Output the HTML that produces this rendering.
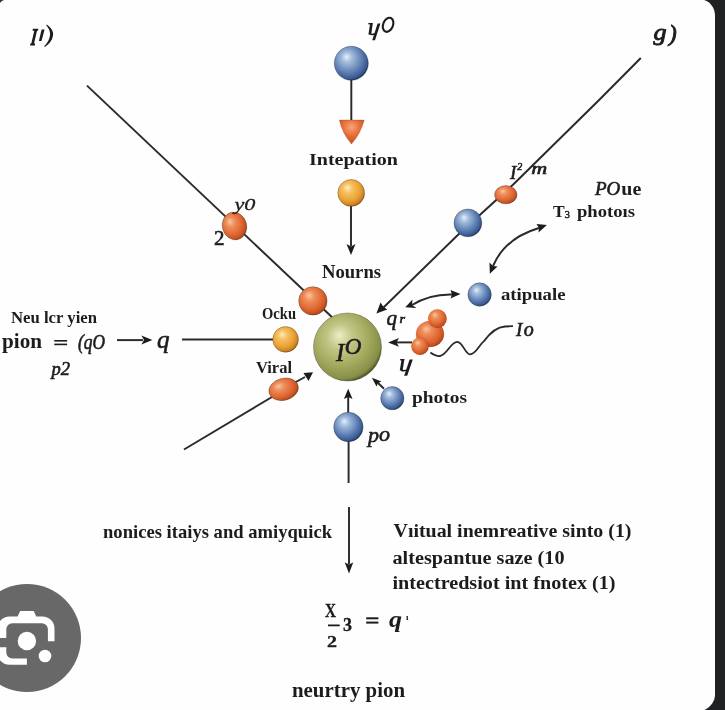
<!DOCTYPE html>
<html><head><meta charset="utf-8">
<style>
html,body{margin:0;padding:0;width:725px;height:710px;overflow:hidden;background:#202122;}
svg{display:block;}
text{font-family:"Liberation Serif",serif;fill:#1c1c1c;}
.b{font-weight:bold;}
.i{font-style:italic;stroke:#1c1c1c;stroke-width:0.6px;}
</style></head><body>
<svg width="725" height="710" viewBox="0 0 725 710">
<defs>
  <radialGradient id="gBlue" cx="0.42" cy="0.4" r="0.62" fx="0.36" fy="0.3">
    <stop offset="0" stop-color="#e6f0f6"/>
    <stop offset="0.25" stop-color="#a2bcdc"/>
    <stop offset="0.65" stop-color="#5f80b5"/>
    <stop offset="0.9" stop-color="#3a5a92"/>
    <stop offset="1" stop-color="#1f3662"/>
  </radialGradient>
  <radialGradient id="gRed" cx="0.42" cy="0.4" r="0.62" fx="0.36" fy="0.3">
    <stop offset="0" stop-color="#f9c6a4"/>
    <stop offset="0.3" stop-color="#ee8c58"/>
    <stop offset="0.7" stop-color="#de6632"/>
    <stop offset="0.92" stop-color="#c44e20"/>
    <stop offset="1" stop-color="#983814"/>
  </radialGradient>
  <radialGradient id="gOrange" cx="0.42" cy="0.4" r="0.62" fx="0.36" fy="0.3">
    <stop offset="0" stop-color="#fdebc0"/>
    <stop offset="0.3" stop-color="#f6c060"/>
    <stop offset="0.7" stop-color="#e9a134"/>
    <stop offset="0.92" stop-color="#cc8020"/>
    <stop offset="1" stop-color="#9a5c10"/>
  </radialGradient>
  <radialGradient id="gGreen" cx="0.42" cy="0.4" r="0.62" fx="0.38" fy="0.33">
    <stop offset="0" stop-color="#eceec4"/>
    <stop offset="0.3" stop-color="#c2c686"/>
    <stop offset="0.65" stop-color="#a3aa5e"/>
    <stop offset="0.92" stop-color="#878f48"/>
    <stop offset="1" stop-color="#4e5628"/>
  </radialGradient>
  <radialGradient id="gTri" cx="0.48" cy="0.3" r="0.75">
    <stop offset="0" stop-color="#f7a57a"/>
    <stop offset="0.45" stop-color="#e8703a"/>
    <stop offset="0.85" stop-color="#d0501f"/>
    <stop offset="1" stop-color="#a83a14"/>
  </radialGradient>
  <filter id="soft" x="-5%" y="-5%" width="110%" height="110%"><feGaussianBlur stdDeviation="0.6"/></filter>
</defs>
<!-- white card -->
<path d="M-5,-1 H698 C708,-1 715,6 715,16 V694.8 C715,702 709.5,708.5 702,711 H-5 Z" fill="#fefefe"/>
<path d="M0,0 L4,0 Q1,0.8 0,3 Z" fill="#303030"/>

<g filter="url(#soft)">
<g stroke="#2a2a2a" stroke-width="1.95" fill="none">
  <!-- upper-left long line -->
  <line x1="87" y1="85.6" x2="335" y2="320"/>
  <!-- upper-right long line -->
  <polyline points="640.8,58 598.6,100.5 512.7,185 457.3,235.5 383.5,307.5" stroke-linejoin="round"/>
  <!-- top vertical -->
  <line x1="351.3" y1="78" x2="351.3" y2="122"/>
  <line x1="351" y1="206" x2="351" y2="246"/>
  <!-- left horizontal -->
  <line x1="182" y1="339.5" x2="274" y2="339.5"/>
  <!-- lower-left line -->
  <line x1="184" y1="449.5" x2="272" y2="397"/>
  <line x1="294" y1="383" x2="305" y2="377"/>
  <!-- left formula arrow -->
  <line x1="117" y1="340.1" x2="143" y2="340.1"/>
  <!-- cluster arrow -->
  <line x1="412" y1="342.4" x2="396" y2="342.4"/>
  <!-- photos arrow -->
  <line x1="384" y1="388.8" x2="377" y2="382"/>
  <!-- bottom -->
  <line x1="348.6" y1="483" x2="348.6" y2="440"/>
  <line x1="348.2" y1="413" x2="348.2" y2="397"/>
  <line x1="349" y1="507" x2="349" y2="564"/>
  <!-- double arrows -->
  <path d="M493,266 Q505,238 539,228"/>
  <path d="M412,305 Q430,294 452,294.5"/>
  <!-- wave -->
  <path d="M430.4,352.5 C434,355 437,356.5 440,356 C447,355 451,341.5 457.3,341.8 C463,342 465,354.3 470,354.3 C476,354.3 479,345 484.2,340.9 C490,333 497,327 505,326.5 L513,326.2" stroke-width="1.8"/>
</g>
<g fill="#1c1c1c">
  <path d="M376.4,313.4 L380.5,302.5 L383.5,307 L387.3,309.5 Z"/>
  <path d="M351,255 L346.5,244 L351,246.5 L355.5,244 Z"/>
  <path d="M313,372.2 L303.5,373 L306,377 L308.5,381 Z"/>
  <path d="M152.4,340.1 L141.4,335.6 L144,340.1 L141.4,344.6 Z"/>
  <path d="M388.1,342.4 L399,338 L396.5,342.4 L399,346.8 Z"/>
  <path d="M371.9,377.7 L381.5,381.5 L378,383 L376.5,386.5 Z"/>
  <path d="M348.2,388.8 L352.5,399 L348.2,397 L343.9,399 Z"/>
  <path d="M349,573.5 L344.8,562.5 L349,564.5 L353.2,562.5 Z"/>
  <path d="M489.8,273.8 L489.5,262.5 L493,266 L497.5,266.5 Z"/>
  <path d="M546.9,224.9 L536.5,224 L539,228 L538.5,232.5 Z"/>
  <path d="M405.3,307.2 L412.5,299.5 L412,305 L416.5,308 Z"/>
  <path d="M460.5,294.1 L450.5,290 L452,294.5 L450.5,298.5 Z"/>
</g>

<!-- spheres -->
<circle cx="351.3" cy="63.3" r="17" fill="url(#gBlue)" stroke="#3a3226" stroke-opacity="0.45" stroke-width="0.8"/>
<path d="M339.4,120 L364.2,120 Q361,133 351.5,144 Q342,133 339.4,120 Z" fill="url(#gTri)" stroke="#8a3010" stroke-opacity="0.35" stroke-width="0.8"/>
<circle cx="351.2" cy="192.9" r="13.4" fill="url(#gOrange)" stroke="#3a3226" stroke-opacity="0.45" stroke-width="0.8"/>
<circle cx="347.5" cy="347" r="34" fill="url(#gGreen)" stroke="#3a3226" stroke-opacity="0.45" stroke-width="0.8"/>
<ellipse cx="234.5" cy="226" rx="12.1" ry="14" fill="url(#gRed)" stroke="#3a3226" stroke-opacity="0.45" stroke-width="0.8" transform="rotate(-15 234.5 226)"/>
<circle cx="312.9" cy="300.9" r="14.2" fill="url(#gRed)" stroke="#3a3226" stroke-opacity="0.45" stroke-width="0.8"/>
<circle cx="285.6" cy="339.4" r="12.8" fill="url(#gOrange)" stroke="#3a3226" stroke-opacity="0.45" stroke-width="0.8"/>
<ellipse cx="283.6" cy="389.3" rx="15" ry="11" fill="url(#gRed)" stroke="#3a3226" stroke-opacity="0.45" stroke-width="0.8" transform="rotate(-15 283.6 389.3)"/>
<ellipse cx="430" cy="334" rx="14" ry="13" fill="url(#gRed)" stroke="#b04a1c" stroke-opacity="0.25" stroke-width="0.6"/>
<circle cx="437.4" cy="318.6" r="9.3" fill="url(#gRed)" stroke="#b04a1c" stroke-opacity="0.25" stroke-width="0.6"/>
<circle cx="420" cy="346.2" r="8.7" fill="url(#gRed)" stroke="#b04a1c" stroke-opacity="0.25" stroke-width="0.6"/>
<circle cx="392.3" cy="398.2" r="11.6" fill="url(#gBlue)" stroke="#3a3226" stroke-opacity="0.45" stroke-width="0.8"/>
<circle cx="348.4" cy="427" r="14.7" fill="url(#gBlue)" stroke="#3a3226" stroke-opacity="0.45" stroke-width="0.8"/>
<circle cx="467.9" cy="222.9" r="13.9" fill="url(#gBlue)" stroke="#3a3226" stroke-opacity="0.45" stroke-width="0.8"/>
<ellipse cx="505.8" cy="194.7" rx="11.2" ry="9.1" fill="url(#gRed)" stroke="#3a3226" stroke-opacity="0.45" stroke-width="0.8"/>
<circle cx="479.6" cy="294.5" r="11.7" fill="url(#gBlue)" stroke="#3a3226" stroke-opacity="0.45" stroke-width="0.8"/>

<!-- texts -->
<g id="t_p" fill="#1c1c1c">
  <path d="M32.8,28.8 L38.4,28.8 L37.9,30.8 L37,30.8 L34,43.4 L35.2,43.4 L34.8,45.4 L30,45.4 L30.4,43.4 L31.3,43.4 L34.3,30.8 L32.6,30.8 Z"/>
  <path d="M41.6,29.4 L44.6,29.4 L41.5,41 L38.9,41 Z"/>
  <path d="M46.8,24.4 Q54,29.5 53,35.5 Q52,42 45,47 L44.2,46.2 Q49.4,41 50,35.3 Q50.4,29.5 46.2,25.2 Z"/>
</g>
<text id="t_g" class="i" style="stroke-width:0.9px" x="653.5" y="40" font-size="23"><tspan textLength="13" lengthAdjust="spacingAndGlyphs">g</tspan><tspan x="669" dy="0.5">)</tspan></text>
<g id="t_y0" fill="#1c1c1c">
  <path d="M368.4,23 L373,23 L372.6,24.4 L371.2,34.4 L368.4,34.4 L370,24.4 L368.2,24.2 Z"/>
  <path d="M369.5,33 Q373,34.6 376.2,32.2 L376,34 Q372.6,36 369.4,34.6 Z"/>
  <path d="M377.6,23.4 L380.4,23.4 L375,40.2 L372.2,40.2 Z"/>
  <ellipse cx="388.1" cy="24.8" rx="4.9" ry="7.3" transform="rotate(22 388.1 24.8)" fill="none" stroke="#1c1c1c" stroke-width="2.1"/>
</g>
<text id="t_intep" class="b" x="309" y="165" font-size="17" textLength="89" lengthAdjust="spacingAndGlyphs">Intepation</text>
<text id="t_nourns" class="b" x="322" y="278" font-size="18" textLength="59" lengthAdjust="spacingAndGlyphs">Nourns</text>
<text id="t_ocku" class="b" x="262" y="319" font-size="16" textLength="34" lengthAdjust="spacingAndGlyphs">Ocku</text>
<text id="t_viral" class="b" x="256" y="373" font-size="17" textLength="36" lengthAdjust="spacingAndGlyphs">Viral</text>
<text id="t_ly0" class="i" style="stroke-width:0.3px" x="234.5" y="210" font-size="17" textLength="21" lengthAdjust="spacingAndGlyphs">y0</text>
<text id="t_l2" x="214" y="245" font-size="21" stroke="#1c1c1c" stroke-width="0.6">2</text>
<text id="t_neu" class="b" x="11" y="323" font-size="16" textLength="86" lengthAdjust="spacingAndGlyphs">Neu lcr yien</text>
<text id="t_pion" class="b" x="2" y="348" font-size="22" textLength="40" lengthAdjust="spacingAndGlyphs">pion</text>
<g id="t_eq" fill="#1c1c1c"><rect x="54.3" y="340" width="12.8" height="1.6"/><rect x="54.3" y="343.6" width="12.8" height="1.6"/></g>
<text id="t_q0" class="i" x="78" y="349" font-size="20" textLength="27" lengthAdjust="spacingAndGlyphs">(q<tspan>O</tspan></text>
<text id="t_q" class="i" x="157" y="348" font-size="25">q</text>
<text id="t_p2" class="i" x="51.5" y="374.5" font-size="18.5">p2</text>
<text id="t_l0c" class="i" x="336" y="360.5" font-size="25" fill="#1e2410" stroke="#1e2410">I<tspan font-size="23" dy="-6.5" dx="0.5">O</tspan></text>
<text id="t_qr" class="i" x="386.5" y="325" font-size="21"><tspan textLength="10.5" lengthAdjust="spacingAndGlyphs">q</tspan><tspan x="399.5" font-size="12.5" dy="-1.8" textLength="5.5" lengthAdjust="spacingAndGlyphs">r</tspan></text>
<g id="t_yr" fill="#1c1c1c">
  <path d="M400.2,359 L404.6,359 L404.2,360.4 L402.6,370.6 L399.8,370.6 L401.4,360.4 L400,360.2 Z"/>
  <path d="M401,369.2 Q405,371 408.6,368.2 L408.3,370 Q404.6,372.4 400.9,370.9 Z"/>
  <path d="M409.6,359.4 L412.8,359.4 L407.2,375.8 L404.2,375.8 Z"/>
</g>
<text id="t_l0r" class="i" x="516" y="336" font-size="19">I<tspan dx="1.5" font-size="20">o</tspan></text>
<text id="t_photos" class="b" x="412" y="403" font-size="17" textLength="55" lengthAdjust="spacingAndGlyphs">photos</text>
<text id="t_po" class="i" x="368" y="441.5" font-size="22">p<tspan dy="-1">o</tspan></text>
<text id="t_l2m" class="i" x="510" y="179" font-size="19">I<tspan font-size="10" dy="-9" dx="1">2</tspan><tspan dy="4" dx="9" font-size="17" textLength="16" lengthAdjust="spacingAndGlyphs">m</tspan></text>
<text id="t_poue" x="595" y="195" font-size="19"><tspan class="i">P</tspan><tspan class="i">O</tspan><tspan class="b" dx="1" textLength="20" lengthAdjust="spacingAndGlyphs">ue</tspan></text>
<text id="t_t3" class="b" x="553" y="217" font-size="17.5">T<tspan font-size="11" dy="0.5" x="564.5" style="font-weight:normal;stroke:#1c1c1c;stroke-width:0.4px">3</tspan><tspan dy="-0.5" x="577" textLength="58" lengthAdjust="spacingAndGlyphs">photoıs</tspan></text>
<text id="t_atip" class="b" x="501" y="299.5" font-size="17.5" textLength="64.5" lengthAdjust="spacingAndGlyphs">atipuale</text>
<text id="t_non" class="b" x="103" y="537.5" font-size="19.5" textLength="229" lengthAdjust="spacingAndGlyphs">nonices itaiys and amiyquick</text>
<text id="t_vi" class="b" x="393.5" y="537" font-size="18" textLength="238" lengthAdjust="spacingAndGlyphs">Vıitual inemreative sinto (1)</text>
<text id="t_al" class="b" x="392.5" y="564" font-size="18" textLength="172" lengthAdjust="spacingAndGlyphs">altespantue saze (10</text>
<text id="t_in" class="b" x="392.5" y="588.5" font-size="18" textLength="223" lengthAdjust="spacingAndGlyphs">intectredsiot int fnotex (1)</text>
<text id="t_X" class="b" stroke="#1c1c1c" stroke-width="0.3" x="325" y="617" font-size="19" textLength="11" lengthAdjust="spacingAndGlyphs">X</text>
<line x1="328" y1="625.4" x2="339.7" y2="625.4" stroke="#1c1c1c" stroke-width="1.8"/>
<text id="t_2f" class="b" stroke="#1c1c1c" stroke-width="0.3" x="327" y="646.5" font-size="16.5" textLength="10" lengthAdjust="spacingAndGlyphs">2</text>
<text id="t_3" class="b" stroke="#1c1c1c" stroke-width="0.3" x="343" y="631" font-size="18">3</text>
<g id="t_eq2" fill="#1c1c1c"><rect x="366.2" y="617.3" width="12.2" height="2"/><rect x="366.2" y="621.6" width="12.2" height="2"/></g>
<text id="t_qb" class="i b" style="stroke-width:0" x="389" y="626.5" font-size="23" textLength="13" lengthAdjust="spacingAndGlyphs">q</text>
<text id="t_sup" class="b" x="406" y="619.5" font-size="9">ı</text>
<text id="t_neur" class="b" x="292" y="697" font-size="20.5" textLength="113" lengthAdjust="spacingAndGlyphs">neurtry pion</text>

</g>
<!-- google lens button -->
<circle cx="27" cy="638" r="54" fill="#686868"/>
<g fill="#fff">
  <path d="M-2.5,638 L-2.5,628.6 A12,12 0 0 1 9.5,616.6 L17.6,616.6 L20.2,610.9 L33.7,610.9 L36.3,616.6 L42.5,616.6 A12,12 0 0 1 54.5,628.6 L54.5,641.3 L47.9,641.3 L47.9,629.2 A6,6 0 0 0 41.9,623.2 L12.3,623.2 A6,6 0 0 0 6.3,629.2 L6.3,638 Z"/>
  <path d="M-2.5,647.2 L6.3,647.2 L6.3,652.5 A6,6 0 0 0 12.3,658.5 L26.9,658.5 L26.9,664.8 L9.5,664.8 A12,12 0 0 1 -2.5,652.8 Z"/>
</g>
<circle cx="26.9" cy="641" r="9.2" fill="#fff"/>
<circle cx="45" cy="656" r="6.3" fill="#fff"/>
</svg>
</body></html>
